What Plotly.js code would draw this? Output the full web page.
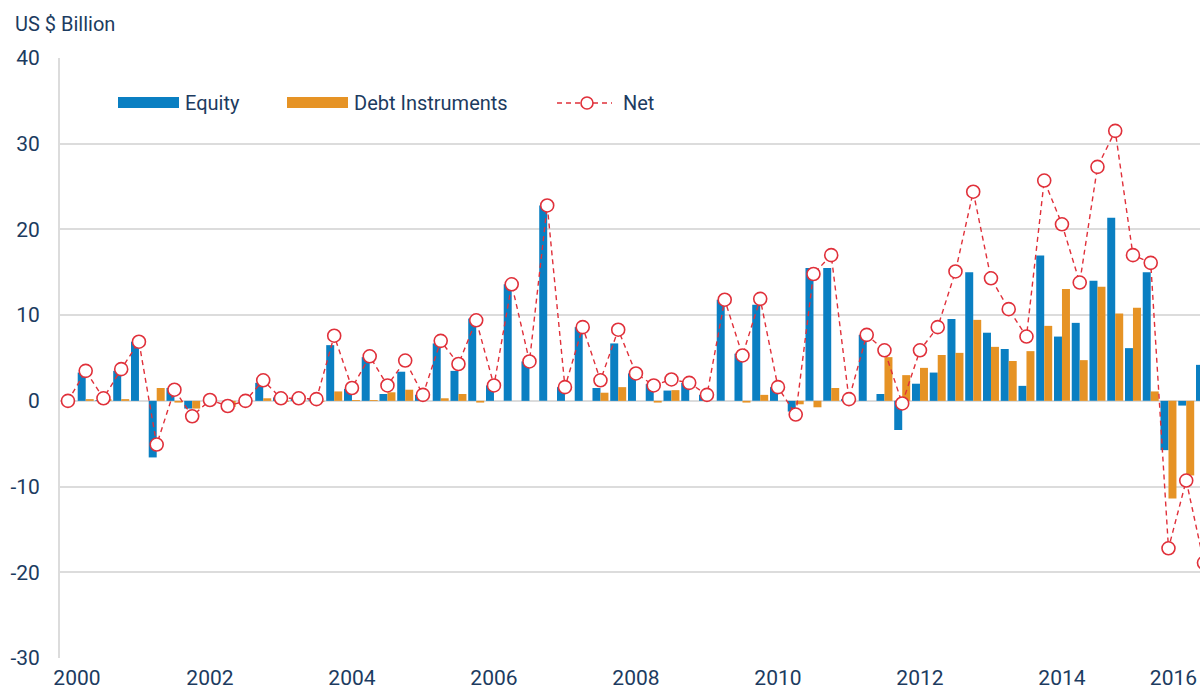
<!DOCTYPE html>
<html>
<head>
<meta charset="utf-8">
<script src="https://cdn.plot.ly/plotly-3.0.1.min.js"></script>
<style>
  html, body { margin: 0; padding: 0; background: #ffffff; overflow: hidden; }
  #chart { width: 1200px; height: 690px; }
</style>
</head>
<body>
<div id="chart"></div>
<script>
// ---- Data (US $ Billion, quarterly from 2000 Q1) ----
const startYear = 2000;
const seriesNames = ["Equity", "Debt Instruments", "Net"];

const equity = [
  0, 3.3, 0.1, 3.5,        // 2000
  6.9, -6.6, 1.5, -0.9,    // 2001
  0, 0, 0, 2.1,            // 2002
  0.4, 0.3, 0.3, 6.5,      // 2003
  1.4, 5.1, 0.8, 3.4,      // 2004
  0.7, 6.7, 3.5, 9.6,      // 2005
  1.8, 13.6, 4.6, 22.8,    // 2006
  1.6, 8.6, 1.5, 6.7,      // 2007
  3.2, 1.95, 1.2, 2.1,     // 2008
  0.7, 11.8, 5.5, 11.2,    // 2009
  1.6, -1.25, 15.5, 15.5,  // 2010
  0.2, 7.7, 0.8, -3.4,     // 2011
  2.0, 3.3, 9.55, 15.0,    // 2012
  7.95, 6.05, 1.75, 16.95, // 2013
  7.5, 9.1, 14.0, 21.35,   // 2014
  6.15, 15.0, -5.75, -0.55,// 2015
  4.2                      // 2016
];

const debtInstruments = [
  0, 0.2, 0.2, 0.2,
  0, 1.5, -0.2, -0.9,
  0, -0.7, 0, 0.3,
  -0.1, 0, -0.1, 1.1,
  0.1, 0.1, 1.0, 1.3,
  0, 0.3, 0.8, -0.2,
  0, 0, 0, 0,
  0, 0, 0.95, 1.6,
  0, -0.2, 1.25, 0,
  0, 0, -0.2, 0.7,
  0, -0.4, -0.75, 1.5,
  0, 0, 5.1, 3.0,
  3.85, 5.35, 5.6, 9.45,
  6.3, 4.65, 5.8, 8.75,
  13.05, 4.75, 13.3, 10.2,
  10.85, 1.1, -11.4, -8.7,
  -23.1
];

const net = [
  0, 3.5, 0.3, 3.7,
  6.9, -5.1, 1.3, -1.8,
  0.1, -0.6, 0, 2.4,
  0.3, 0.3, 0.2, 7.6,
  1.5, 5.2, 1.8, 4.7,
  0.7, 7.0, 4.3, 9.4,
  1.8, 13.6, 4.6, 22.8,
  1.6, 8.6, 2.4, 8.3,
  3.2, 1.8, 2.5, 2.1,
  0.7, 11.8, 5.3, 11.9,
  1.6, -1.6, 14.8, 17.0,
  0.2, 7.7, 5.9, -0.3,
  5.9, 8.6, 15.1, 24.4,
  14.3, 10.7, 7.5, 25.7,
  20.6, 13.8, 27.3, 31.5,
  17.0, 16.1, -17.2, -9.3,
  -18.9
];

const yTickVals = [-30, -20, -10, 0, 10, 20, 30, 40];
const yTickText = ["-30", "-20", "-10", "0", "10", "20", "30", "40"];
const xTickYears = ["2000", "2002", "2004", "2006", "2008", "2010", "2012", "2014", "2016"];

// quarter labels -> decimal-year positions
const quarterLabels = equity.map((_, i) => (startYear + Math.floor(i / 4)) + " Q" + (i % 4 + 1));
const xPos = quarterLabels.map(s => { const p = s.split(" Q"); return +p[0] + (+p[1] - 1) / 4; });

// ---- Style ----
const FONT = 'Roboto, "Liberation Sans", Arial, sans-serif';
const TXT = '#1c3b60';
const BLUE = '#0a7fc2';
const ORANGE = '#e69325';
const RED = '#e0303a';
const GRID = '#dcdcdc';

// edge labels are nudged inward, as in the source figure
const xTickVals = xTickYears.map(y => {
  const v = +y;
  if (v === 2000) return v + 0.127;
  if (v === 2016) return v - 0.43;
  return v;
});

const traces = [
  { type: 'bar', name: seriesNames[0], x: xPos, y: equity, marker: { color: BLUE }, showlegend: false, hoverinfo: 'x+y' },
  { type: 'bar', name: seriesNames[1], x: xPos, y: debtInstruments, marker: { color: ORANGE }, showlegend: false, hoverinfo: 'x+y' },
  { type: 'scatter', mode: 'lines+markers', name: seriesNames[2], x: xPos, y: net,
    line: { color: RED, width: 1.4, dash: '5px,4px' },
    marker: { symbol: 'circle', size: 13, color: '#ffffff', line: { color: RED, width: 1.6 } },
    showlegend: false }
];

// custom legend (pixel -> paper helpers)
const PL = 60, PR = 1200, PT = 58, PB = 658;
const px = v => (v - PL) / (PR - PL);
const py = v => (PB - v) / (PB - PT);

const shapes = [
  { type: 'rect', xref: 'paper', yref: 'paper', x0: px(118), x1: px(179), y0: py(108), y1: py(97), fillcolor: BLUE, line: { width: 0 } },
  { type: 'rect', xref: 'paper', yref: 'paper', x0: px(287), x1: px(348), y0: py(108), y1: py(97), fillcolor: ORANGE, line: { width: 0 } },
  { type: 'line', xref: 'paper', yref: 'paper', x0: px(557), x1: px(612), y0: py(103), y1: py(103), line: { color: RED, width: 1.4, dash: '5px,4px' } },
  { type: 'circle', xref: 'paper', yref: 'paper', x0: px(581), x1: px(593), y0: py(109), y1: py(97), fillcolor: '#ffffff', line: { color: RED, width: 1.6 } }
];

const annotations = [
  { xref: 'paper', yref: 'paper', x: px(183), y: py(103), xanchor: 'left', yanchor: 'middle', text: seriesNames[0], showarrow: false, font: { family: FONT, size: 20, color: TXT } },
  { xref: 'paper', yref: 'paper', x: px(352), y: py(103), xanchor: 'left', yanchor: 'middle', text: seriesNames[1], showarrow: false, font: { family: FONT, size: 20, color: TXT } },
  { xref: 'paper', yref: 'paper', x: px(621), y: py(103), xanchor: 'left', yanchor: 'middle', text: seriesNames[2], showarrow: false, font: { family: FONT, size: 20, color: TXT } }
];

const layout = {
  width: 1200, height: 690,
  margin: { l: 60, r: 0, t: 58, b: 32, pad: 0 },
  paper_bgcolor: '#ffffff', plot_bgcolor: '#ffffff',
  font: { family: FONT, color: TXT, size: 20 },
  title: { text: 'US $ Billion', xref: 'container', yref: 'container', x: 15 / 1200, xanchor: 'left', y: 1 - 24 / 690, yanchor: 'middle',
           font: { family: FONT, size: 20, color: TXT } },
  barmode: 'group', bargap: 0.1, bargroupgap: 0,
  showlegend: false,
  xaxis: {
    type: 'linear', range: [1999.888, 2015.944],
    tickmode: 'array', tickvals: xTickVals, ticktext: xTickYears,
    showgrid: false, zeroline: false, showline: false,
    ticks: '', ticklabelstandoff: 5, ticklabeloverflow: 'allow',
    tickfont: { family: FONT, size: 21, color: TXT }
  },
  yaxis: {
    range: [-30, 40], tickmode: 'array', tickvals: yTickVals, ticktext: yTickText,
    showgrid: true, gridcolor: GRID, gridwidth: 2,
    zeroline: true, zerolinecolor: GRID, zerolinewidth: 2,
    showline: true, linecolor: GRID, linewidth: 2,
    ticks: '', ticklabelstandoff: 14,
    tickfont: { family: FONT, size: 21, color: TXT }
  },
  shapes: shapes,
  annotations: annotations
};

Plotly.newPlot('chart', traces, layout, { displayModeBar: false, staticPlot: true });
</script>
</body>
</html>
